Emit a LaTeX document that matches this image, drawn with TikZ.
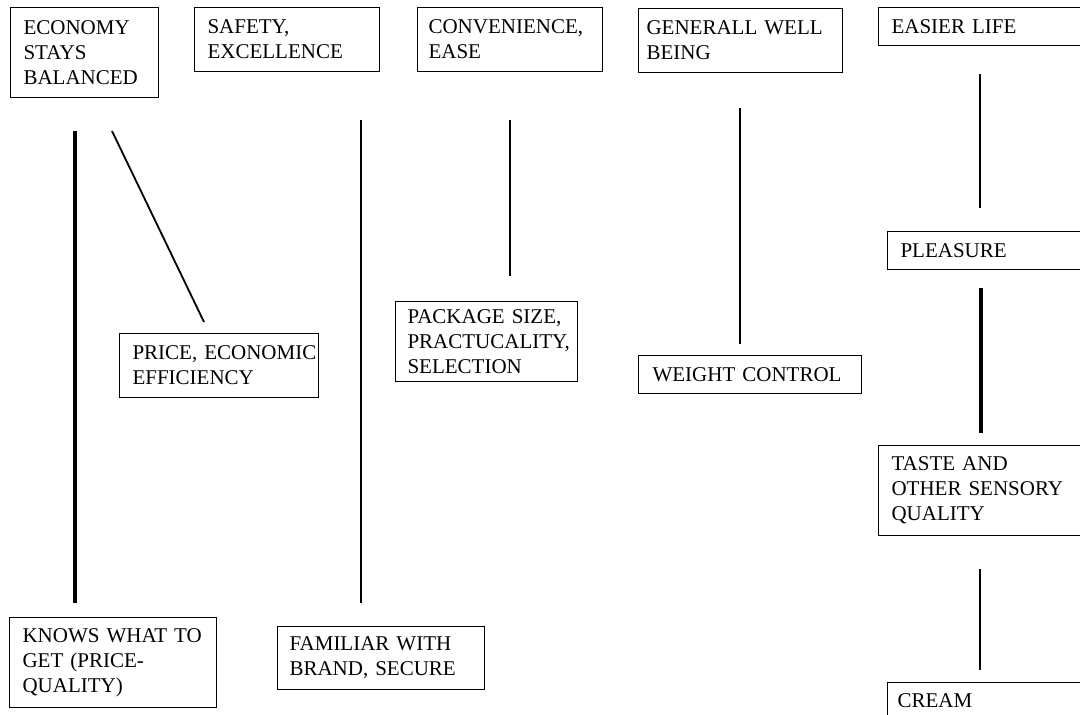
\documentclass[tikz,border=0pt]{standalone}
\usepackage{fontspec}
\setmainfont{Liberation Serif}
\begin{document}
\begin{tikzpicture}[x=1pt,y=-1pt,
  box/.style={draw, line width=1.1pt, anchor=north west, align=left,
    inner ysep=0pt, font=\fontsize{21}{25}\selectfont},
  pad/.style={inner xsep=#1pt},
  lnk/.style={line width=#1pt},
]
\useasboundingbox[fill=white] (0,0) rectangle (1080,715);
% boxes
\node[box,pad=13,minimum width=148,minimum height=90,text width=122] (eco) at (10,7) {\mbox{ECONOMY}\\STAYS\\\mbox{BALANCED}};
\node[box,pad=13,minimum width=185,minimum height=64,text width=159] (safe) at (194,7) {SAFETY,\\\mbox{EXCELLENCE}};
\node[box,pad=11,minimum width=185,minimum height=64,text width=163] (conv) at (417,7) {\mbox{CONVENIENCE,}\\EASE};
\node[box,pad=8,minimum width=204,minimum height=64,text width=188] (gen) at (638,8) {\mbox{GENERALL WELL}\\BEING};
\node[box,pad=13,minimum width=212,minimum height=38,text width=186] (easier) at (878,7) {\mbox{EASIER LIFE}};
\node[box,pad=13,minimum width=203,minimum height=38,text width=177] (pleas) at (887,231) {\mbox{PLEASURE}};
\node[box,pad=13,minimum width=212,minimum height=90,text width=186] (taste) at (878,445) {\mbox{TASTE AND}\\\mbox{OTHER SENSORY}\\\mbox{QUALITY}};
\node[box,pad=10,minimum width=203,minimum height=36,text width=183] (cream) at (887,682) {CREAM};
\node[box,pad=13,minimum width=199,minimum height=64,text width=173] (price) at (119,333) {\mbox{PRICE, ECONOMIC}\\\mbox{EFFICIENCY}};
\node[box,pad=12,minimum width=182,minimum height=80,text width=158] (pack) at (395,301) {\mbox{PACKAGE SIZE,}\\\mbox{PRACTUCALITY,}\\\mbox{SELECTION}};
\node[box,pad=14,minimum width=223,minimum height=38,text width=195] (weight) at (638,355) {\mbox{WEIGHT CONTROL}};
\node[box,pad=13,minimum width=207,minimum height=90,text width=181] (knows) at (9,617) {\mbox{KNOWS WHAT TO}\\\mbox{GET (PRICE-}\\\mbox{QUALITY)}};
\node[box,pad=12,minimum width=207,minimum height=63,text width=183] (fam) at (277,626) {\mbox{FAMILIAR WITH}\\\mbox{BRAND, SECURE}};
% connector end points
\coordinate (a1) at (75,131);  \coordinate (b1) at (75,603);
\coordinate (a2) at (112,131); \coordinate (b2) at (204,322);
\coordinate (a3) at (361,120); \coordinate (b3) at (361,603);
\coordinate (a4) at (510,120); \coordinate (b4) at (510,276);
\coordinate (a5) at (740,108); \coordinate (b5) at (740,344);
\coordinate (a6) at (980,74);  \coordinate (b6) at (980,208);
\coordinate (a7) at (981,288); \coordinate (b7) at (981,433);
\coordinate (a8) at (980,569); \coordinate (b8) at (980,670);
% connectors
\draw[lnk=4.5] (a1) -- (b1);
\draw[lnk=1.8] (a2) -- (b2);
\draw[lnk=2.3] (a3) -- (b3);
\draw[lnk=2.3] (a4) -- (b4);
\draw[lnk=2.5] (a5) -- (b5);
\draw[lnk=1.1] (a6) -- (b6);
\draw[lnk=4.3] (a7) -- (b7);
\draw[lnk=1.1] (a8) -- (b8);
\end{tikzpicture}
\end{document}
